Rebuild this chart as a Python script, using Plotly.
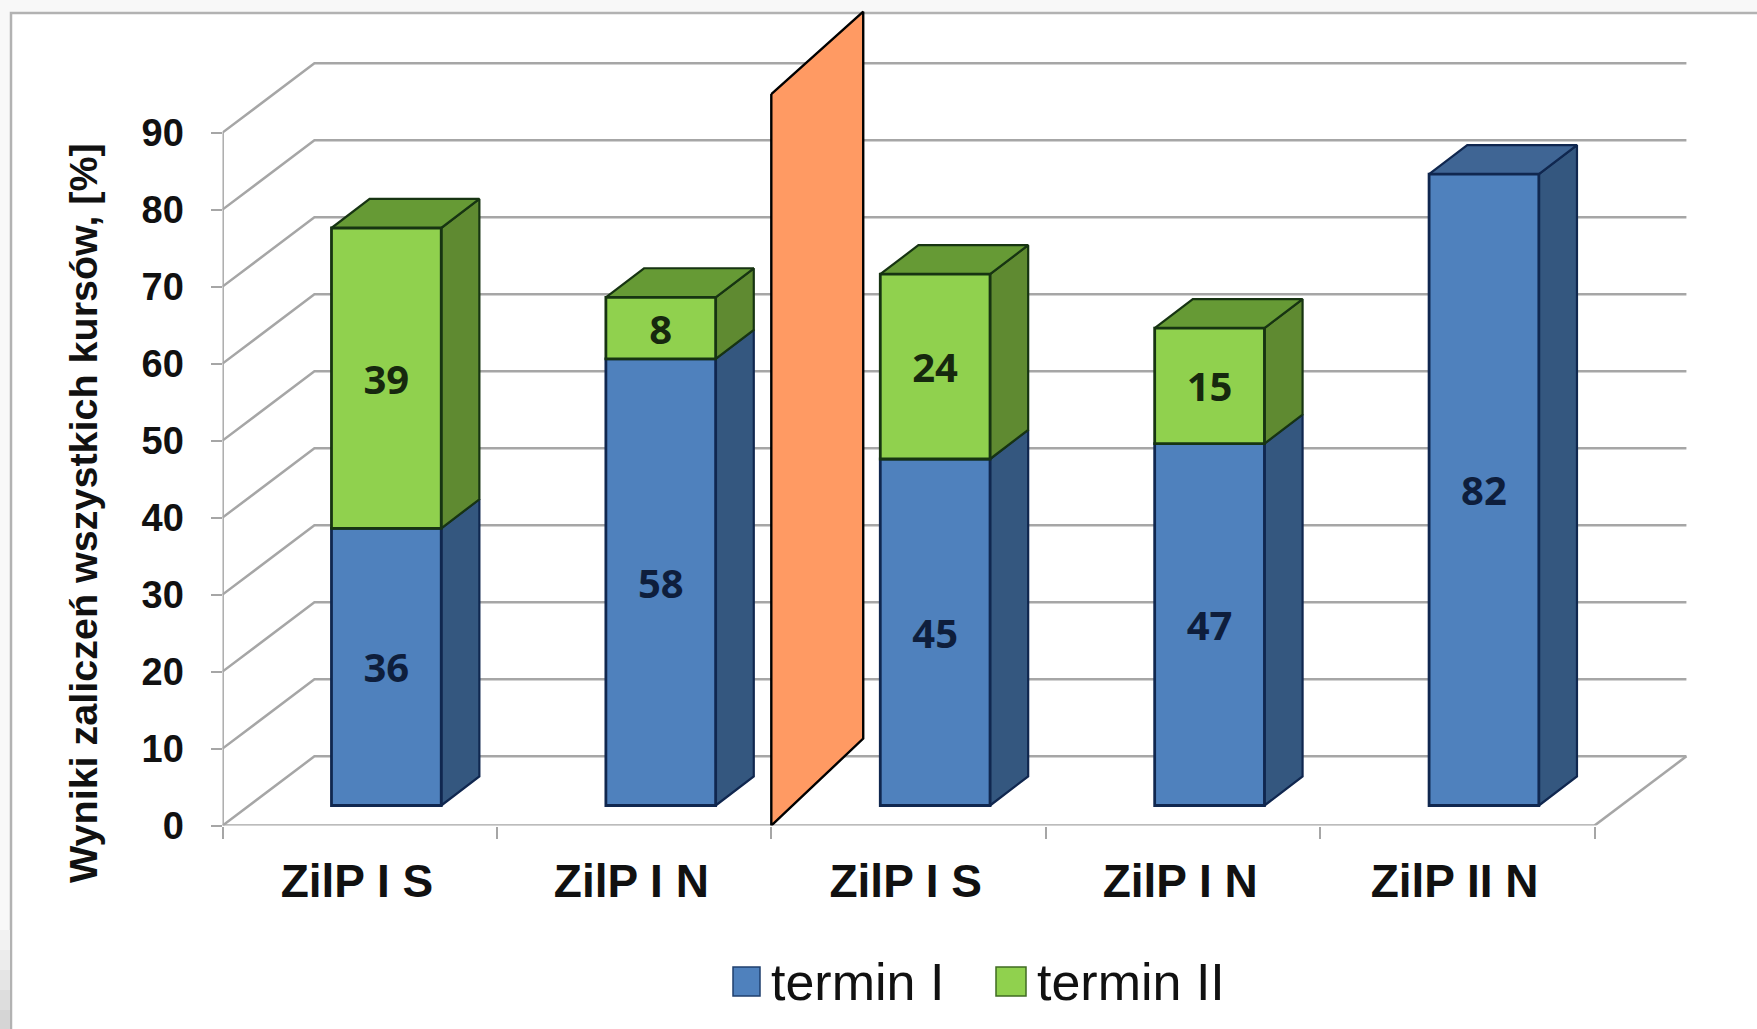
import plotly.graph_objects as go

categories = ["ZilP I S", "ZilP I N", "ZilP I S", "ZilP I N", "ZilP II N"]
termin_1 = [36, 58, 45, 47, 82]
termin_2 = [39, 8, 24, 15, None]
y_ticks = [0, 10, 20, 30, 40, 50, 60, 70, 80, 90]

W, H = 1757, 1029
X0_PX, Y0_PX = 222.5, 825.6
CAT_PX, UNIT_PX = 274.4, 7.70

DEPTH_X, DEPTH_Y = 0.335, 9.0      # chart depth in axis units
BAR_W = 0.40
BAR_T = 0.29                       # depth of the bar's front face (fraction)
BAR_DX, BAR_DY = 0.139, 3.77       # depth of the bar itself
DIV_X = 2
DIV_BOTTOM = (0.0, 11.3)
DIV_TOP = (95.0, 105.7)

BLUE, BLUE_SIDE, BLUE_TOP, BLUE_LINE = "#4F81BD", "#34577F", "#3F6594", "#10274F"
GREEN, GREEN_SIDE, GREEN_TOP, GREEN_LINE = "#90D14E", "#5F8A31", "#669A35", "#173412"
GRID = "#A6A6A6"
FRAME = "#B2B2B2"
ORANGE = "#FF9A63"

x_max = (W - X0_PX) / CAT_PX
y_max = Y0_PX / UNIT_PX

fig = go.Figure()

# walls: gridlines running back from the front axis
gx, gy = [], []
for v in y_ticks:
    gx += [0, DEPTH_X, 5 + DEPTH_X, None]
    gy += [v, v + DEPTH_Y, v + DEPTH_Y, None]
gx += [5, 5 + DEPTH_X]
gy += [0, DEPTH_Y]
fig.add_trace(go.Scatter(x=gx, y=gy, mode="lines", line=dict(color=GRID, width=2.5),
                         showlegend=False, hoverinfo="skip", zorder=0))
# axis lines
fig.add_trace(go.Scatter(x=[0, 0, 5], y=[90, 0, 0], mode="lines", line=dict(color=GRID, width=2.8),
                         showlegend=False, hoverinfo="skip", zorder=0))

front_dx = BAR_T * DEPTH_X
front_dy = BAR_T * DEPTH_Y
centers = [i + 0.5 + front_dx for i in range(len(categories))]


def poly(xs, ys, fill, line, z=1, width=2.2):
    fig.add_trace(go.Scatter(x=xs + [xs[0]], y=ys + [ys[0]], mode="lines", fill="toself",
                             fillcolor=fill, line=dict(color=line, width=width),
                             showlegend=False, hoverinfo="skip", zorder=z))


for i, c in enumerate(centers):
    right = c + BAR_W / 2
    left = c - BAR_W / 2
    b = front_dy
    m = b + termin_1[i]
    poly([right, right + BAR_DX, right + BAR_DX, right],
         [b, b + BAR_DY, m + BAR_DY, m], BLUE_SIDE, BLUE_LINE)
    if termin_2[i] is not None:
        t = m + termin_2[i]
        poly([right, right + BAR_DX, right + BAR_DX, right],
             [m, m + BAR_DY, t + BAR_DY, t], GREEN_SIDE, GREEN_LINE)
        poly([left, left + BAR_DX, right + BAR_DX, right],
             [t, t + BAR_DY, t + BAR_DY, t], GREEN_TOP, GREEN_LINE)
    else:
        poly([left, left + BAR_DX, right + BAR_DX, right],
             [m, m + BAR_DY, m + BAR_DY, m], BLUE_TOP, BLUE_LINE)

label_font = dict(family="Open Sans", size=40, weight=700)
fig.add_trace(go.Bar(
    x=centers, y=termin_1, base=[front_dy] * 5, width=BAR_W, name="termin I",
    marker=dict(color=BLUE, line=dict(color=BLUE_LINE, width=2.8)),
    text=[str(v) for v in termin_1], textposition="inside", insidetextanchor="middle",
    textangle=0, constraintext="none",
    textfont=dict(color="#0E1E3C", **label_font), showlegend=False, zorder=2))
fig.add_trace(go.Bar(
    x=centers, y=termin_2, base=[front_dy + v for v in termin_1], width=BAR_W, name="termin II",
    marker=dict(color=GREEN, line=dict(color=GREEN_LINE, width=2.8)),
    text=[str(v) if v is not None else "" for v in termin_2], textposition="inside",
    insidetextanchor="middle", textangle=0, constraintext="none",
    textfont=dict(color="#16280E", **label_font), showlegend=False, zorder=2))

# orange divider plane
poly([DIV_X, DIV_X + DEPTH_X, DIV_X + DEPTH_X, DIV_X],
     [DIV_TOP[0], DIV_TOP[1], DIV_BOTTOM[1], DIV_BOTTOM[0]], ORANGE, "#000000", z=3, width=2.4)


def px(x):
    return x / W


def py(y):
    return 1 - y / H


shapes = [
    dict(type="rect", xref="paper", yref="paper", x0=px(11), x1=px(W + 20), y0=py(13), y1=py(H + 20),
         fillcolor="#FFFFFF", line=dict(color=FRAME, width=2.5), layer="below"),
]
# soft grey fade in the lower left corner
for top, col in [(930, "#F2F2F2"), (950, "#ECECEC"), (970, "#E5E5E5"),
                 (990, "#DDDDDD"), (1010, "#D5D5D5")]:
    shapes.append(dict(type="rect", xref="paper", yref="paper", x0=0, x1=px(10), y0=py(top), y1=0,
                       fillcolor=col, line=dict(width=0), layer="below"))
# legend swatches
shapes.append(dict(type="rect", xref="paper", yref="paper", x0=px(733), x1=px(760), y0=py(967), y1=py(996),
                   fillcolor=BLUE, line=dict(color="#1F3F6E", width=1.5)))
shapes.append(dict(type="rect", xref="paper", yref="paper", x0=px(996), x1=px(1026), y0=py(967), y1=py(996),
                   fillcolor=GREEN, line=dict(color="#3F6B22", width=1.5)))

annotations = [
    dict(xref="paper", yref="paper", x=px(769), y=py(982), xanchor="left", yanchor="middle", showarrow=False,
         text="termin I", font=dict(family="Liberation Sans", size=52, color="#111111")),
    dict(xref="paper", yref="paper", x=px(1035), y=py(982), xanchor="left", yanchor="middle", showarrow=False,
         text="termin II", font=dict(family="Liberation Sans", size=52, color="#111111")),
    dict(xref="paper", yref="paper", x=px(83), y=py(513), xanchor="center", yanchor="middle", showarrow=False,
         textangle=-90, text="Wyniki zaliczeń wszystkich kursów, [%]",
         font=dict(family="Liberation Sans", size=39.5, color="#111111", weight="bold")),
]

fig.update_layout(
    width=W, height=H, margin=dict(l=0, r=0, t=0, b=0, pad=0), autosize=False,
    paper_bgcolor="#F8F8F8", plot_bgcolor="rgba(0,0,0,0)",
    barmode="overlay", showlegend=False, shapes=shapes, annotations=annotations,
    xaxis=dict(
        automargin=False,
        domain=[X0_PX / W, 1], range=[0, x_max], showgrid=False, zeroline=False, showline=False,
        tickmode="array", tickvals=[i + 0.49 for i in range(5)], ticktext=categories, ticks="",
        tickfont=dict(family="Liberation Sans", size=46, color="#111111", weight="bold"),
        ticklabelstandoff=24,
        minor=dict(tick0=0, dtick=1, ticks="outside", ticklen=12, tickcolor=GRID, tickwidth=2, showgrid=False),
    ),
    yaxis=dict(
        automargin=False,
        domain=[1 - Y0_PX / H, 1], range=[0, y_max], showgrid=False, zeroline=False, showline=False,
        tickmode="array", tickvals=y_ticks, ticks="outside", ticklen=11, tickcolor=GRID, tickwidth=2,
        tickfont=dict(family="Liberation Sans", size=38, color="#111111", weight="bold"),
        ticklabelstandoff=19,
    ),
)

fig.write_html("out.html", config=dict(displayModeBar=False),
               post_script="document.body.style.margin='0';document.body.style.overflow='hidden';")
